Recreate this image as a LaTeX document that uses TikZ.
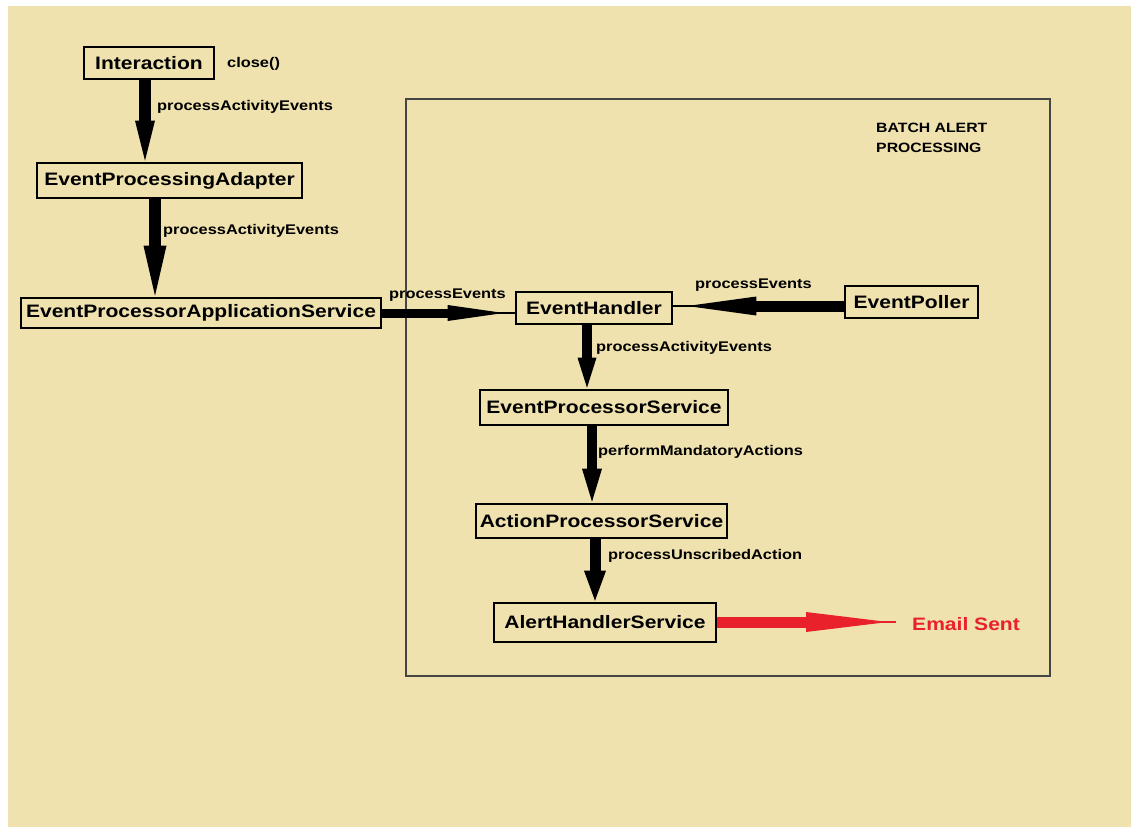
\documentclass[tikz,border=0pt]{standalone}
\usepackage{fontspec}
\setmainfont{Liberation Sans}[FakeStretch=1.17]
\usetikzlibrary{arrows.meta}
\definecolor{bgbeige}{HTML}{EFE2AF}
\definecolor{mailred}{HTML}{E8212B}
\definecolor{frameg}{HTML}{454545}
\begin{document}
\begin{tikzpicture}[x=1pt,y=-1pt,
  box/.style={draw=black, line width=2.6pt, inner sep=0pt, font=\fontsize{18}{20}\selectfont\bfseries},
  lbl/.style={anchor=west, inner sep=0pt, font=\fontsize{14}{16}\selectfont\bfseries},
  fatarrow/.style={draw=black, line cap=butt}
]
\useasboundingbox (0,0) rectangle (1131,827);
\fill[white] (0,0) rectangle (1131,827);
\fill[bgbeige] (8,6) rectangle (1131,827);

% batch frame
\draw[frameg, line width=1.3pt] (406,99) rectangle (1050,676);
\node[anchor=north west, inner sep=0pt, align=left, font=\fontsize{13.5}{20}\selectfont\bfseries] (batch) at (876,123) {BATCH ALERT\\PROCESSING};

% nodes
\node[box, minimum width=130pt, minimum height=32pt] (inter) at (149,63) {Interaction};
\node[box, minimum width=265pt, minimum height=35pt] (epa) at (169.5,180.5) {EventProcessingAdapter};
\node[box, minimum width=360pt, minimum height=30pt] (epas) at (201,313) {EventProcessorApplicationService};
\node[box, minimum width=156pt, minimum height=32pt] (eh) at (594,308) {EventHandler};
\node[box, minimum width=133pt, minimum height=32pt] (ep) at (911.5,302) {EventPoller};
\node[box, minimum width=248pt, minimum height=35pt] (eps) at (604,407.5) {EventProcessorService};
\node[box, minimum width=251pt, minimum height=34pt] (aps) at (601.5,521) {ActionProcessorService};
\node[box, minimum width=222pt, minimum height=39pt] (ahs) at (605,622.5) {AlertHandlerService};

% labels
\node[lbl] (lclose) at (227,63.5) {close()};
\node[lbl] (l1) at (157,106.5) {processActivityEvents};
\node[lbl] (l2) at (163,230.5) {processActivityEvents};
\node[lbl] (l3) at (389,295.5) {processEvents};
\node[lbl] (l4) at (695,285.5) {processEvents};
\node[lbl] (l5) at (596,347.5) {processActivityEvents};
\node[lbl] (l6) at (598,451.5) {performMandatoryActions};
\node[lbl] (l7) at (608,555.5) {processUnscribedAction};
\node[anchor=west, inner sep=0pt, text=mailred, font=\fontsize{18}{20}\selectfont\bfseries] (mail) at (912,624) {Email Sent};

% x positions of vertical arrows
\coordinate (c1) at (145,0);
\coordinate (c2) at (155,0);
\coordinate (c3) at (587,0);
\coordinate (c4) at (592,0);
\coordinate (c5) at (595,0);
\coordinate (rowR) at (0,306);
\coordinate (mailtip) at (896,622);

% vertical arrows
\draw[fatarrow, line width=12pt, -{Triangle[length=40pt,width=20pt,line width=0pt]}] (inter.south -| c1) -- ([yshift=1pt]epa.north -| c1);
\draw[fatarrow, line width=12pt, -{Triangle[length=50pt,width=23pt,line width=0pt]}] (epa.south -| c2) -- ([yshift=1pt]epas.north -| c2);
\draw[fatarrow, line width=10pt, -{Triangle[length=30pt,width=19pt,line width=0pt]}] (eh.south -| c3) -- ([yshift=1pt]eps.north -| c3);
\draw[fatarrow, line width=10pt, -{Triangle[length=33pt,width=20pt,line width=0pt]}] (eps.south -| c4) -- ([yshift=1pt]aps.north -| c4);
\draw[fatarrow, line width=11pt, -{Triangle[length=30pt,width=22pt,line width=0pt]}] (aps.south -| c5) -- ([yshift=1pt]ahs.north -| c5);

% horizontal arrows
\draw[black, line width=1.6pt] (epas.east) -- (eh.west |- epas.east);
\draw[fatarrow, line width=9pt, shorten >=11pt, -{Triangle[length=56pt,width=16pt,line width=0pt]}] (epas.east) -- (eh.west |- epas.east);
\draw[black, line width=1.6pt] (ep.west |- rowR) -- (eh.east |- rowR);
\draw[fatarrow, line width=11pt, shorten >=14pt, -{Triangle[length=69pt,width=19pt,line width=0pt]}] (ep.west |- rowR) -- (eh.east |- rowR);

% red arrow
\draw[mailred, line width=1.6pt] (ahs.east |- mailtip) -- (mailtip);
\draw[mailred, line width=11pt, line cap=butt, shorten >=8pt, -{Triangle[length=82pt,width=20pt,line width=0pt]}] (ahs.east |- mailtip) -- (mailtip);
\end{tikzpicture}
\end{document}
